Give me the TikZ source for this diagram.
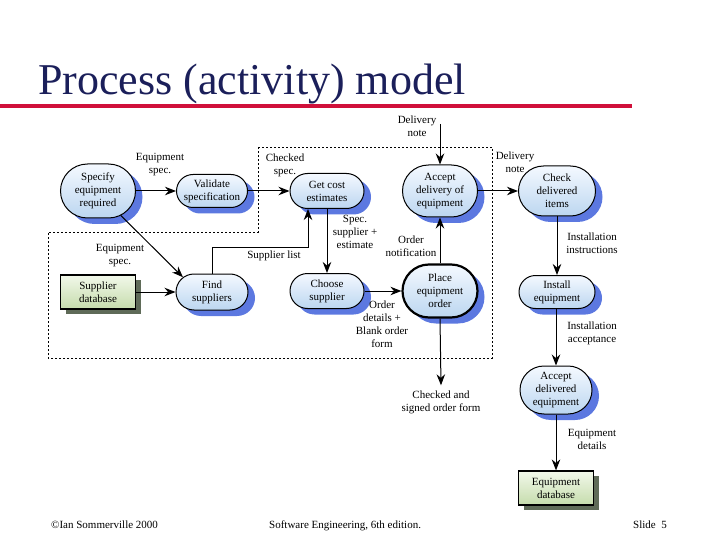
\documentclass[tikz,border=0pt]{standalone}
\usepackage{fontspec}
\setmainfont{Liberation Serif}
\usetikzlibrary{shapes.misc,shadows,arrows.meta}
\definecolor{navy}{HTML}{1B1F5A}
\definecolor{titlered}{HTML}{D0103A}
\definecolor{nodetop}{HTML}{F4F9FF}
\definecolor{nodebot}{HTML}{BCD6F0}
\definecolor{shadowblue}{HTML}{5C78E0}
\definecolor{greentop}{HTML}{F2F8EA}
\definecolor{greenbot}{HTML}{C5DCAC}
\definecolor{shadowgreen}{HTML}{5F6B58}
\newcommand{\dfont}{\fontsize{11}{13}\selectfont}
\begin{document}
\begin{tikzpicture}[x=1pt,y=-1pt,
  proc/.style={rounded rectangle, draw=black, line width=1pt,
    top color=nodetop, bottom color=nodebot,
    drop shadow={shadow xshift=7pt, shadow yshift=-6pt, fill=shadowblue, opacity=1},
    align=center, font=\dfont, inner sep=1pt},
  thickproc/.style={proc, line width=2.2pt},
  store/.style={rectangle, draw=black, line width=1.2pt,
    top color=greentop, bottom color=greenbot,
    drop shadow={shadow xshift=5pt, shadow yshift=-5pt, fill=shadowgreen, opacity=1},
    minimum width=75pt, minimum height=34pt, align=center, font=\dfont},
  lab/.style={align=center, font=\dfont, inner sep=0pt},
  arr/.style={draw=black, line width=1pt, -{Stealth[length=11pt,width=8.5pt]}},
  boundary/.style={draw=black, line width=0.9pt, dash pattern=on 2pt off 2pt}
]
\useasboundingbox (0,0) rectangle (720,540);

% title
\node[anchor=base west, inner sep=0pt, text=navy, font=\fontsize{44}{48}\selectfont] (title) at (38,95) {Process (activity) model};
\fill[titlered] (0,104.5) rectangle (632,108.5);

% dashed boundary
\draw[boundary] (258,147) -- (492,147) -- (492,358) -- (48,358) -- (48,232) -- (258,232) -- cycle;

% process nodes
\node[proc, minimum width=77pt, minimum height=54pt] (spec) at (98,191) {Specify\\equipment\\required};
\node[proc, minimum width=73pt, minimum height=33pt] (valid) at (212,191) {Validate\\specification};
\node[proc, minimum width=76pt, minimum height=35pt] (cost) at (327,191) {Get cost\\estimates};
\node[proc, minimum width=77pt, minimum height=52pt] (accdel) at (440,191) {Accept\\delivery of\\equipment};
\node[proc, minimum width=79pt, minimum height=50pt] (check) at (557,191) {Check\\delivered\\items};
\node[store] (supdb) at (98,292) {Supplier\\database};
\node[proc, minimum width=74pt, minimum height=36pt] (find) at (212,292) {Find\\suppliers};
\node[proc, minimum width=76pt, minimum height=35pt] (choose) at (327,291) {Choose\\supplier};
\node[thickproc, minimum width=77pt, minimum height=53pt] (place) at (440,291) {Place\\equipment\\order};
\node[proc, minimum width=78pt, minimum height=33pt] (install) at (557,292) {Install\\equipment};
\node[proc, minimum width=74pt, minimum height=48pt] (accept) at (556,390) {Accept\\delivered\\equipment};
\node[store] (eqdb) at (556,488) {Equipment\\database};

% labels
\node[lab] (l1) at (160,165) {Equipment\\spec.};
\node[lab] (l2) at (285,165) {Checked\\spec.};
\node[lab] (dn1) at (417,126) {Delivery\\note};
\node[lab] (dn2) at (515,162) {Delivery\\note};
\node[lab] (l5) at (355,232) {Spec.\\supplier +\\estimate};
\node[lab] (l6) at (274,256) {Supplier list};
\node[lab] (l7) at (411,246) {Order\\notification};
\node[lab] (l8) at (382,324) {Order\\details +\\Blank order\\form};
\node[lab] (l9) at (120,256) {Equipment\\spec.};
\node[lab] (l10) at (592,243) {Installation\\instructions};
\node[lab] (l11) at (592,333) {Installation\\acceptance};
\node[lab] (signed) at (441,402) {Checked and\\signed order form};
\node[lab] (l13) at (592,439) {Equipment\\details};

% connectors
\draw[arr] (spec.east) -- (valid.west);
\draw[arr] (valid.east) -- (cost.west);
\draw[arr] (spec.-47) -- (find.153);
\draw[arr] (supdb.east) -- (supdb.east -| find.west);
\coordinate (sl) at (308,247);
\draw[arr] (find.north) |- (sl) -- (sl |- cost.south);
\draw[arr] (cost.south) -- (choose.north);
\draw[arr] (choose.east) -- (place.west);
\draw[arr] (place.north) -- (accdel.south);
\coordinate (dtop) at (440,124);
\draw[arr] (dtop) -- (accdel.north);
\draw[arr] (accdel.east) -- (check.west);
\draw[arr] (check.south) -- (install.north);
\draw[arr] (install.south -| accept.north) -- (accept.north);
\draw[arr] (accept.south) -- (eqdb.north);
\draw[arr] (place.south) -- ([yshift=5pt]signed.north);

% footer
\node[anchor=base west, inner sep=0pt, font=\fontsize{11}{13}\selectfont] (f1) at (51,528) {©Ian Sommerville 2000};
\node[anchor=base west, inner sep=0pt, font=\fontsize{11}{13}\selectfont] (f2) at (269,528) {Software Engineering, 6th edition.};
\node[anchor=base west, inner sep=0pt, font=\fontsize{11}{13}\selectfont] (f3) at (633,528) {Slide\ \ 5};
\end{tikzpicture}
\end{document}
